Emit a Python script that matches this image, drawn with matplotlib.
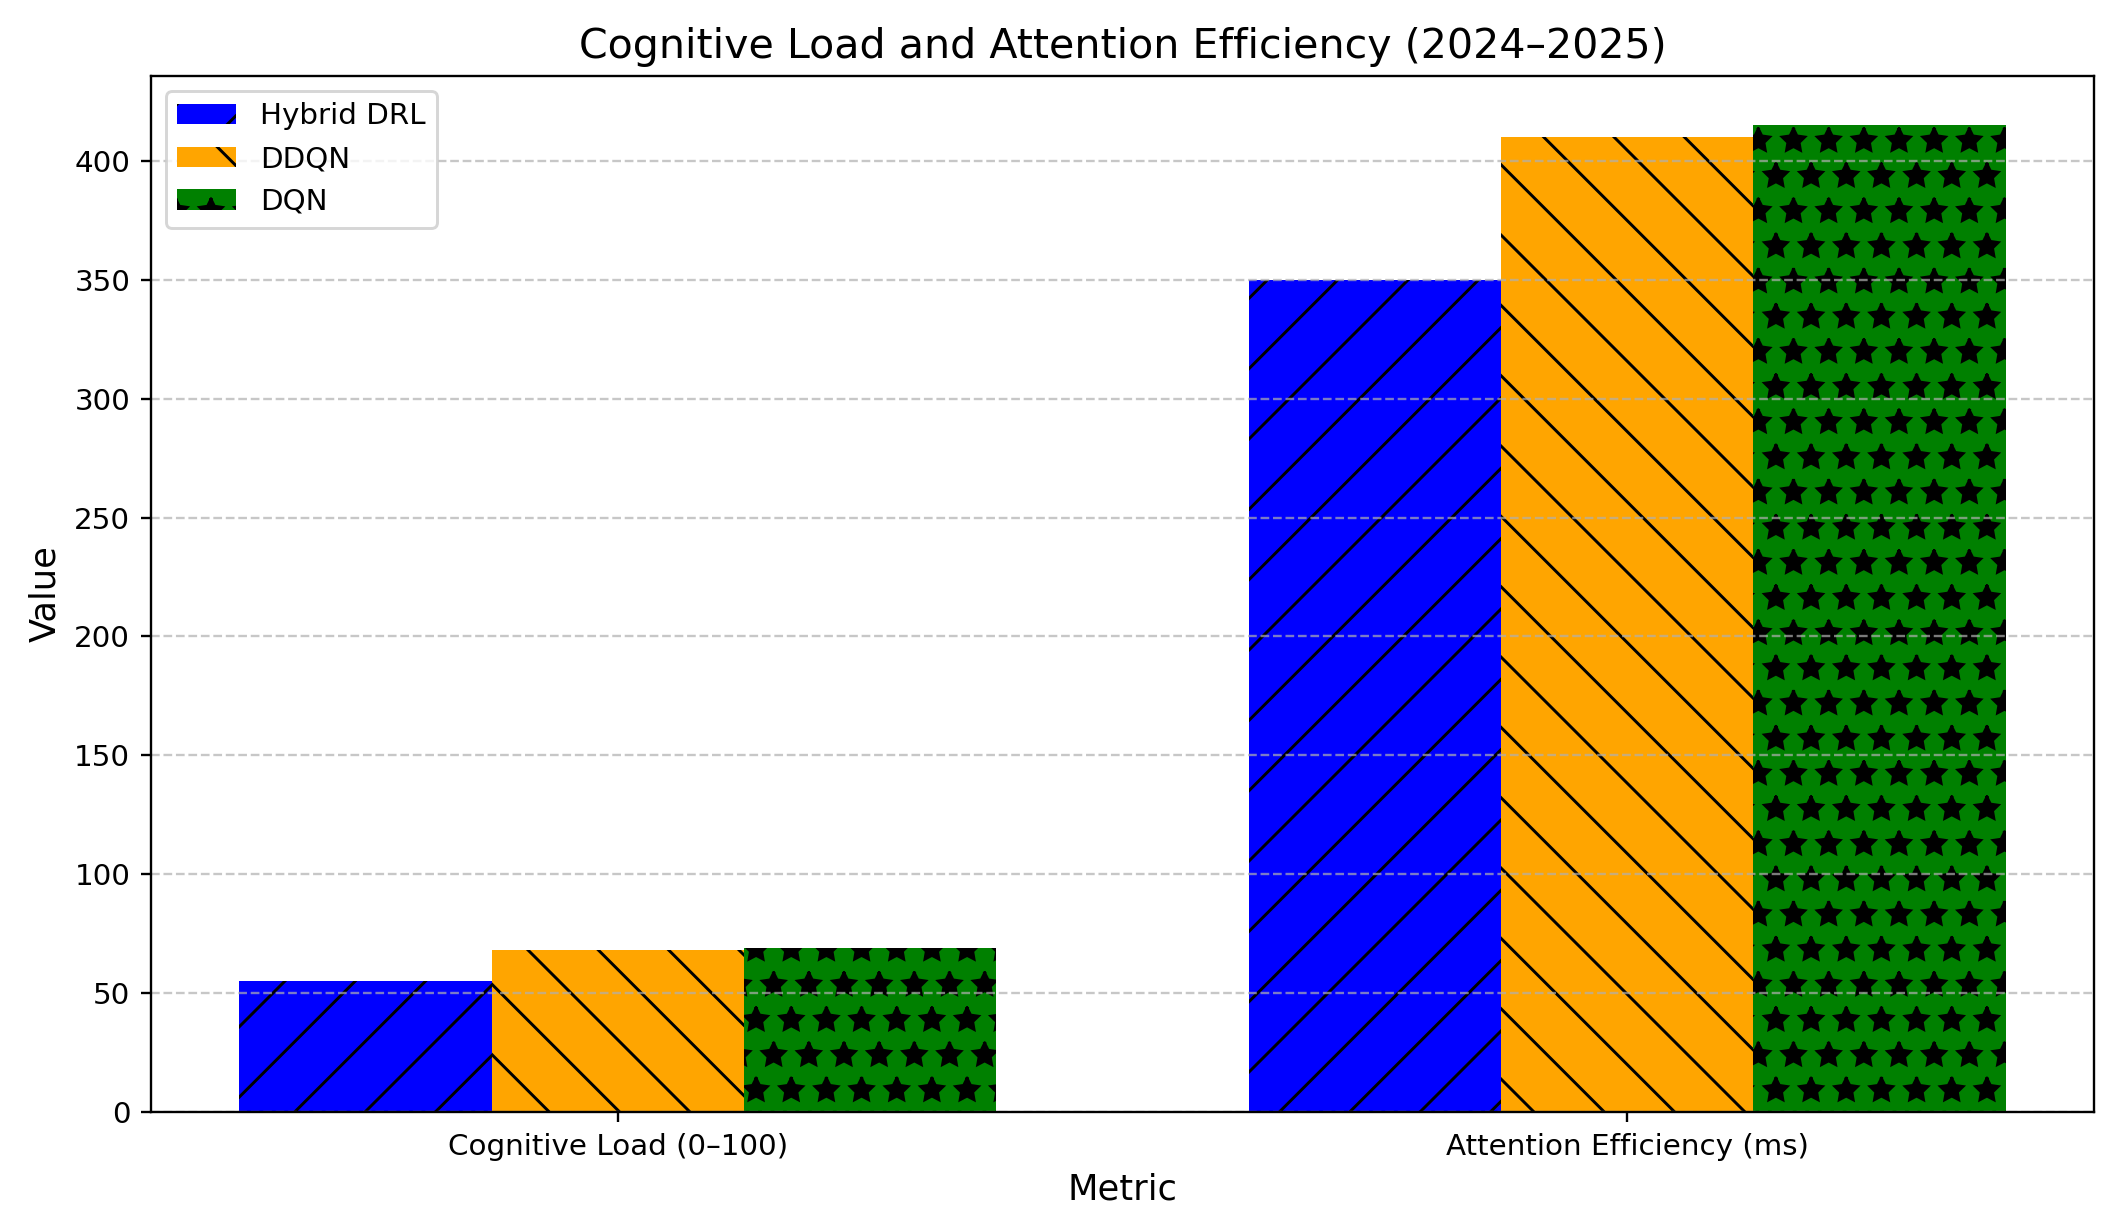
import numpy as np
import matplotlib
matplotlib.use("Agg")
import matplotlib.pyplot as plt

# Data
metrics = ["Cognitive Load (0\u2013100)", "Attention Efficiency (ms)"]
models = ["Hybrid DRL", "DDQN", "DQN"]
hybrid_drl = [55, 350]
ddqn = [68, 410]
dqn = [69, 415]

colors = ["blue", "orange", "green"]
hatches = ["/", "\\", "*"]

fig = plt.figure(figsize=(10, 1219 / 211.7), dpi=211.7)
ax = fig.add_axes([0.0713, 0.0878, 0.9178, 0.8499])

x = np.arange(len(metrics))
width = 0.25
series = [hybrid_drl, ddqn, dqn]
for i, vals in enumerate(series):
    ax.bar(x + (i - 1) * width, vals, width, label=models[i],
           color=colors[i], hatch=hatches[i], edgecolor="black", linewidth=0)

ax.set_xticks(x)
ax.set_xticklabels(metrics)
ax.set_xlabel("Metric", fontsize=12)
ax.set_ylabel("Value", fontsize=12)
ax.set_title("Cognitive Load and Attention Efficiency (2024\u20132025)", fontsize=14)
ax.legend(loc="upper left")
ax.yaxis.grid(True, linestyle="--", alpha=0.7)

fig.savefig("out.png", dpi=211.7)
